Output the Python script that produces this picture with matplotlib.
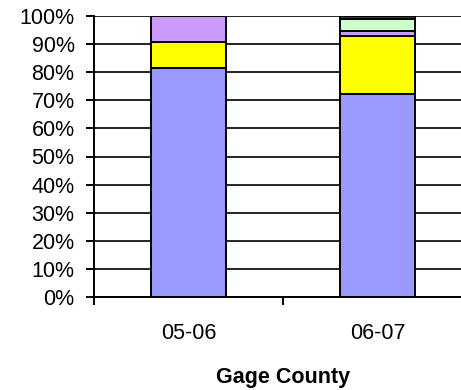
import matplotlib.pyplot as plt
import numpy as np

plt.rcParams['font.family'] = ['Liberation Sans', 'DejaVu Sans']

years = ['05-06', '06-07']
# percentage share of each segment, bottom to top
seg1 = [81.4, 72.2]
seg2 = [9.3, 20.7]
seg3 = [9.3, 1.9]
seg4 = [0.0, 4.1]
seg5 = [0.0, 1.1]
colors = ['#9999FF', '#FFFF00', '#CC99FF', '#CCFFCC', '#333366']

fig = plt.figure(figsize=(4.61, 3.9), dpi=100)
# right edge runs past the figure so the last category is cut off
ax = fig.add_axes([94 / 461, 1 - 297 / 390, 378 / 461, 281 / 390])

x = np.arange(len(years)) + 0.5
bottom = np.zeros(len(years))
for vals, c in zip([seg1, seg2, seg3, seg4, seg5], colors):
    ax.bar(x, vals, width=0.4, bottom=bottom, color=c,
           edgecolor='black', linewidth=1.4, zorder=3)
    bottom += np.array(vals)

ax.set_ylim(0, 100)
ax.set_xlim(0, 2)
ax.set_yticks(np.arange(0, 101, 10))
ax.set_yticklabels([f'{v}%' for v in range(0, 101, 10)], fontsize=15.5)
ax.yaxis.grid(True, color='black', linewidth=1.2, zorder=0)

ax.set_xticks([0, 1, 2])
ax.set_xticklabels([])
ax.set_xticks(x, minor=True)
ax.set_xticklabels(years, minor=True, fontsize=15.5)
ax.tick_params(axis='x', which='minor', length=0, pad=19)
ax.tick_params(axis='x', which='major', direction='out', length=6, width=1.4)
ax.tick_params(axis='y', direction='out', length=6, width=1.4, pad=8)

for s in ['top', 'right']:
    ax.spines[s].set_visible(False)
for s in ['left', 'bottom']:
    ax.spines[s].set_linewidth(1.4)

ax.set_xlabel('Gage County', fontsize=15.5, fontweight='bold', labelpad=16)

fig.savefig('out.png', dpi=100)
